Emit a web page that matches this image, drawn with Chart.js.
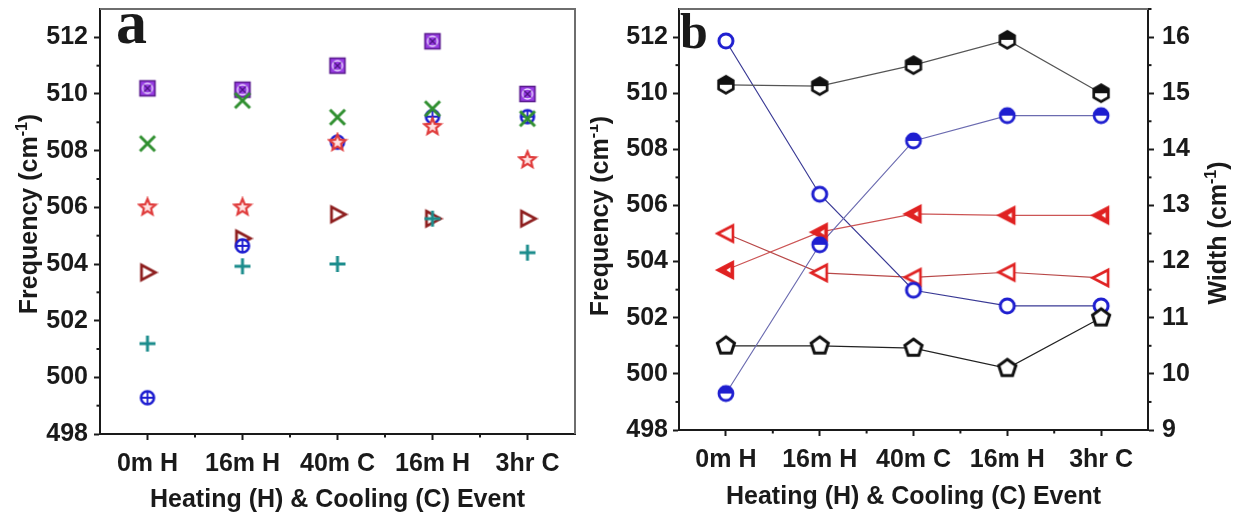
<!DOCTYPE html>
<html><head><meta charset="utf-8">
<script src="https://cdn.jsdelivr.net/npm/chart.js@4/dist/chart.umd.min.js"></script>
<style>
html,body{margin:0;padding:0;background:#fff;}
body{width:1233px;height:519px;overflow:hidden;position:relative;}
#ca{position:absolute;left:0;top:0;}
#cb{position:absolute;left:590px;top:0;}
</style></head>
<body>
<canvas id="ca" width="600" height="519"></canvas>
<canvas id="cb" width="643" height="519"></canvas>
<script>
// ---------- data ----------
const categories = ['0m H', '16m H', '40m C', '16m H', '3hr C'];
const freqTicks = [498, 500, 502, 504, 506, 508, 510, 512];
const widthTicks = [9, 10, 11, 12, 13, 14, 15, 16];

// panel a (frequency, cm-1)
const aPurpleSquare = [510.2, 510.15, 511.0, 511.86, 510.0];
const aGreenX       = [508.25, 509.77, 509.18, 509.48, 509.13];
const aRedStar      = [506.0, 506.0, 508.28, 508.84, 507.67];
const aRedTriangle  = [503.7, 504.9, 505.75, 505.6, 505.6];
const aTealPlus     = [501.19, 503.92, 504.0, 505.6, 504.4];
const aBlueCircle   = [499.28, 504.64, 508.3, 509.2, 509.2];

// panel b
const bHexFreq      = [510.3, 510.25, 511.0, 511.9, 510.0];   // left axis
const bBlueFreq     = [499.3, 504.6, 508.3, 509.2, 509.2];    // left axis
const bRedFreq      = [503.7, 505.05, 505.7, 505.65, 505.65]; // left axis
const bBlueWidth    = [15.93, 13.2, 11.49, 11.21, 11.21];     // right axis
const bRedWidth     = [12.5, 11.8, 11.72, 11.81, 11.71];      // right axis
const bPentWidth    = [10.5, 10.5, 10.46, 10.1, 11.0];        // right axis

// ---------- styling helpers ----------
const FONT = '"Liberation Sans", Arial, sans-serif';
const INK = '#1a1a1a';
function mk(size, fn){const c=document.createElement('canvas');c.width=size;c.height=size;const g=c.getContext('2d');g.translate(size/2,size/2);g.lineJoin='miter';fn(g);return c;}
function poly(g,pts){g.beginPath();pts.forEach((p,i)=>i?g.lineTo(p[0],p[1]):g.moveTo(p[0],p[1]));g.closePath();}
function regPts(n,r,rot){const a=[];for(let i=0;i<n;i++){const t=rot+i*2*Math.PI/n;a.push([r*Math.cos(t),r*Math.sin(t)]);}return a;}
function starPts(R,r){const a=[];for(let i=0;i<10;i++){const t=-Math.PI/2+i*Math.PI/5;const rr=i%2?r:R;a.push([rr*Math.cos(t),rr*Math.sin(t)]);}return a;}

const M = {
  purpleSq: mk(22,g=>{g.fillStyle='#9a3de6';g.fillRect(-7.5,-7.5,15,15);g.strokeStyle='#5b1c8f';g.lineWidth=1.6;g.strokeRect(-7.5,-7.5,15,15);
    g.strokeStyle='#ecdcff';g.lineWidth=1.3;g.beginPath();g.arc(0,0,5,0,2*Math.PI);g.stroke();
    g.strokeStyle='#4a1080';g.beginPath();g.moveTo(-3.5,-3.5);g.lineTo(3.5,3.5);g.moveTo(3.5,-3.5);g.lineTo(-3.5,3.5);g.stroke();}),
  greenX: mk(22,g=>{g.strokeStyle='#2f8f2f';g.lineWidth=3;g.beginPath();g.moveTo(-7.5,-7.5);g.lineTo(7.5,7.5);g.moveTo(7.5,-7.5);g.lineTo(-7.5,7.5);g.stroke();}),
  star: mk(22,g=>{poly(g,starPts(8.5,3.8));g.fillStyle='#ffe2e2';g.fill();g.strokeStyle='#e03c3c';g.lineWidth=2.2;g.stroke();}),
  triR: mk(22,g=>{poly(g,[[-6,-7.5],[8,0],[-6,7.5]]);g.fillStyle='#fff';g.fill();g.strokeStyle='#8e1f1f';g.lineWidth=2.8;g.stroke();}),
  plus: mk(22,g=>{g.strokeStyle='#1b8c8c';g.lineWidth=3;g.beginPath();g.moveTo(-8,0);g.lineTo(8,0);g.moveTo(0,-8);g.lineTo(0,8);g.stroke();}),
  bluePlus: mk(22,g=>{g.beginPath();g.arc(0,0,6.5,0,2*Math.PI);g.fillStyle='#fff';g.fill();g.strokeStyle='#1c1cd0';g.lineWidth=2.6;g.stroke();
    g.lineWidth=1.8;g.beginPath();g.moveTo(-6,0);g.lineTo(6,0);g.moveTo(0,-6);g.lineTo(0,6);g.stroke();}),
  hexHalf: mk(24,g=>{const p=regPts(6,8.5,-Math.PI/2);poly(g,p);g.fillStyle='#fff';g.fill();g.save();g.clip();g.fillStyle='#111';g.fillRect(-12,-12,24,12);g.restore();
    poly(g,p);g.strokeStyle='#111';g.lineWidth=2.6;g.stroke();}),
  blueHalf: mk(24,g=>{g.beginPath();g.arc(0,0,7,0,2*Math.PI);g.fillStyle='#fff';g.fill();g.beginPath();g.arc(0,0,7,Math.PI,2*Math.PI);g.closePath();g.fillStyle='#1f1fd0';g.fill();
    g.beginPath();g.arc(0,0,7,0,2*Math.PI);g.strokeStyle='#1f1fd0';g.lineWidth=2.8;g.stroke();}),
  blueOpen: mk(24,g=>{g.beginPath();g.arc(0,0,7,0,2*Math.PI);g.fillStyle='#fff';g.fill();g.strokeStyle='#1f1fd0';g.lineWidth=3;g.stroke();}),
  redFill: mk(24,g=>{poly(g,[[-8.5,0],[7,-8],[7,8]]);g.fillStyle='#e02222';g.fill();g.strokeStyle='#e02222';g.lineWidth=2.4;g.stroke();
    poly(g,[[0.5,0],[4.5,-2.8],[4.5,2.8]]);g.fillStyle='#fff';g.fill();}),
  redOpen: mk(24,g=>{poly(g,[[-8.5,0],[7,-8],[7,8]]);g.fillStyle='#fff';g.fill();g.strokeStyle='#e02222';g.lineWidth=2.6;g.stroke();}),
  pent: mk(24,g=>{poly(g,regPts(5,9,-Math.PI/2));g.fillStyle='#fff';g.fill();g.strokeStyle='#111';g.lineWidth=3;g.stroke();})
};

const tickFont = {family: FONT, size: 25, weight: 'bold'};
const titleFont = {family: FONT, size: 25, weight: 'bold'};

function gridOpts(){return {display:true, drawOnChartArea:false, drawTicks:true, tickLength:6, tickWidth:2, tickColor:INK};}
function borderOpts(){return {display:true, color:INK, width:2};}

function xScale(h, titlePad){
  return {type:'category', offset:true, grid:gridOpts(), border:borderOpts(),
    ticks:{font:tickFont, color:INK, padding:9, maxRotation:0, autoSkip:false},
    title:{display:true, text:'Heating (H) & Cooling (C) Event', font:titleFont, color:INK, padding:{top:0,bottom:titlePad}},
    afterFit(s){s.height=h; s.paddingLeft=0; s.paddingRight=0;}};
}
function yScale(pos, min, max, ticks, w, pad){
  return {type:'linear', position:pos, min:min, max:max, grid:gridOpts(), border:borderOpts(),
    ticks:{font:tickFont, color:INK, padding:pad},
    afterBuildTicks(s){s.ticks = ticks.map(v=>({value:v}));},
    afterFit(s){s.width=w; s.paddingTop=0; s.paddingBottom=0;}};
}
function midpoints(arr){const m=[];for(let i=0;i<arr.length-1;i++)m.push((arr[i]+arr[i+1])/2);return m;}

// plugin: frame, minor ticks, rotated y titles with superscripts, panel letter
const decor = {
  id:'decor',
  afterDraw(chart, args, o){
    const ctx=chart.ctx, ca=chart.chartArea;
    ctx.save();
    ctx.strokeStyle='#6e6e6e'; ctx.lineWidth=2;
    ctx.beginPath(); ctx.moveTo(ca.left, ca.top); ctx.lineTo(ca.right, ca.top);
    if(o.rightFrame) ctx.lineTo(ca.right, ca.bottom);
    ctx.stroke();
    ctx.strokeStyle=INK; ctx.lineWidth=2;
    (o.minor||[]).forEach(m=>{
      const s=chart.scales[m.id];
      m.values.forEach(v=>{
        const p=s.getPixelForValue(v);
        ctx.beginPath();
        if(m.id==='x'){ctx.moveTo(p, s.top); ctx.lineTo(p, s.top+3.5);}
        else if(s.position==='left'){ctx.moveTo(s.right, p); ctx.lineTo(s.right-3.5, p);}
        else {ctx.moveTo(s.left, p); ctx.lineTo(s.left+3.5, p);}
        ctx.stroke();
      });
    });
    ctx.fillStyle=INK;
    (o.titles||[]).forEach(t=>{
      ctx.save();
      ctx.translate(t.x, t.y); ctx.rotate(-Math.PI/2);
      ctx.textBaseline='alphabetic'; ctx.textAlign='left';
      const big='bold 25px '+FONT, small='bold 16px '+FONT;
      ctx.font=big; const w1=ctx.measureText(t.main).width, w3=ctx.measureText(')').width;
      ctx.font=small; const w2=ctx.measureText('-1').width;
      let x=-(w1+w2+w3)/2;
      ctx.font=big; ctx.fillText(t.main, x, 0); x+=w1;
      ctx.font=small; ctx.fillText('-1', x, -10); x+=w2;
      ctx.font=big; ctx.fillText(')', x, 0);
      ctx.restore();
    });
    if(o.letter){
      ctx.font='bold '+o.letter.size+'px "Liberation Serif", "Times New Roman", serif';
      ctx.textBaseline='alphabetic'; ctx.textAlign='left';
      ctx.fillText(o.letter.text, o.letter.x, o.letter.y);
    }
    ctx.restore();
  }
};

function ptDs(data, style, order, axis){
  return {data:data, showLine:false, pointStyle:style, pointRadius:8, pointHoverRadius:8, order:order, yAxisID:axis||'y', borderColor:'rgba(0,0,0,0)', backgroundColor:'rgba(0,0,0,0)', clip:false};
}
function lineDs(data, color, axis){
  return {data:data, showLine:true, borderColor:color, borderWidth:1.2, pointRadius:0, order:10, yAxisID:axis, fill:false, tension:0};
}

// ---------- panel a ----------
new Chart(document.getElementById('ca'), {
  type:'line',
  data:{labels:categories, datasets:[
    ptDs(aGreenX, M.greenX, 0),
    ptDs(aRedStar, M.star, 1),
    ptDs(aBlueCircle, M.bluePlus, 2),
    ptDs(aTealPlus, M.plus, 3),
    ptDs(aRedTriangle, M.triR, 4),
    ptDs(aPurpleSquare, M.purpleSq, 5)
  ]},
  options:{
    responsive:false, animation:false, events:[],
    layout:{padding:{top:5, right:25, left:0, bottom:0}},
    scales:{ x:xScale(85, 4), y:yScale('left', 498, 513, freqTicks, 100, 6) },
    plugins:{legend:{display:false}, tooltip:{enabled:false},
      decor:{rightFrame:true,
        minor:[{id:'y', values:midpoints(freqTicks)}, {id:'x', values:[0.5,1.5,2.5,3.5]}],
        titles:[{main:'Frequency (cm', x:37, y:214}],
        letter:{text:'a', size:62, x:116, y:43}}}
  },
  plugins:[decor]
});

// ---------- panel b ----------
new Chart(document.getElementById('cb'), {
  type:'line',
  data:{labels:categories, datasets:[
    lineDs(bHexFreq, '#555555', 'y'),
    lineDs(bBlueFreq, '#6b6bb0', 'y'),
    lineDs(bRedFreq, '#cc5555', 'y'),
    lineDs(bBlueWidth, '#3a3a95', 'y1'),
    lineDs(bRedWidth, '#b84848', 'y1'),
    lineDs(bPentWidth, '#222222', 'y1'),
    ptDs(bHexFreq, M.hexHalf, 0, 'y'),
    ptDs(bBlueWidth, M.blueOpen, 1, 'y1'),
    ptDs(bBlueFreq, M.blueHalf, 0, 'y'),
    ptDs(bRedWidth, M.redOpen, 1, 'y1'),
    ptDs(bRedFreq, M.redFill, 0, 'y'),
    ptDs(bPentWidth, M.pent, 0, 'y1')
  ]},
  options:{
    responsive:false, animation:false, events:[],
    layout:{padding:{top:5, right:0, left:0, bottom:0}},
    scales:{ x:xScale(89, 7),
      y:yScale('left', 498, 513, freqTicks, 89, 5),
      y1:yScale('right', 9, 16.5, widthTicks, 85, 8) },
    plugins:{legend:{display:false}, tooltip:{enabled:false},
      decor:{rightFrame:false,
        minor:[{id:'y', values:midpoints(freqTicks)}, {id:'y1', values:midpoints(widthTicks).concat([16.5])}, {id:'x', values:[0.5,1.5,2.5,3.5]}],
        titles:[{main:'Frequency (cm', x:18, y:216}, {main:'Width (cm', x:636, y:233}],
        letter:{text:'b', size:50, x:90, y:48}}}
  },
  plugins:[decor]
});
</script>
</body></html>
